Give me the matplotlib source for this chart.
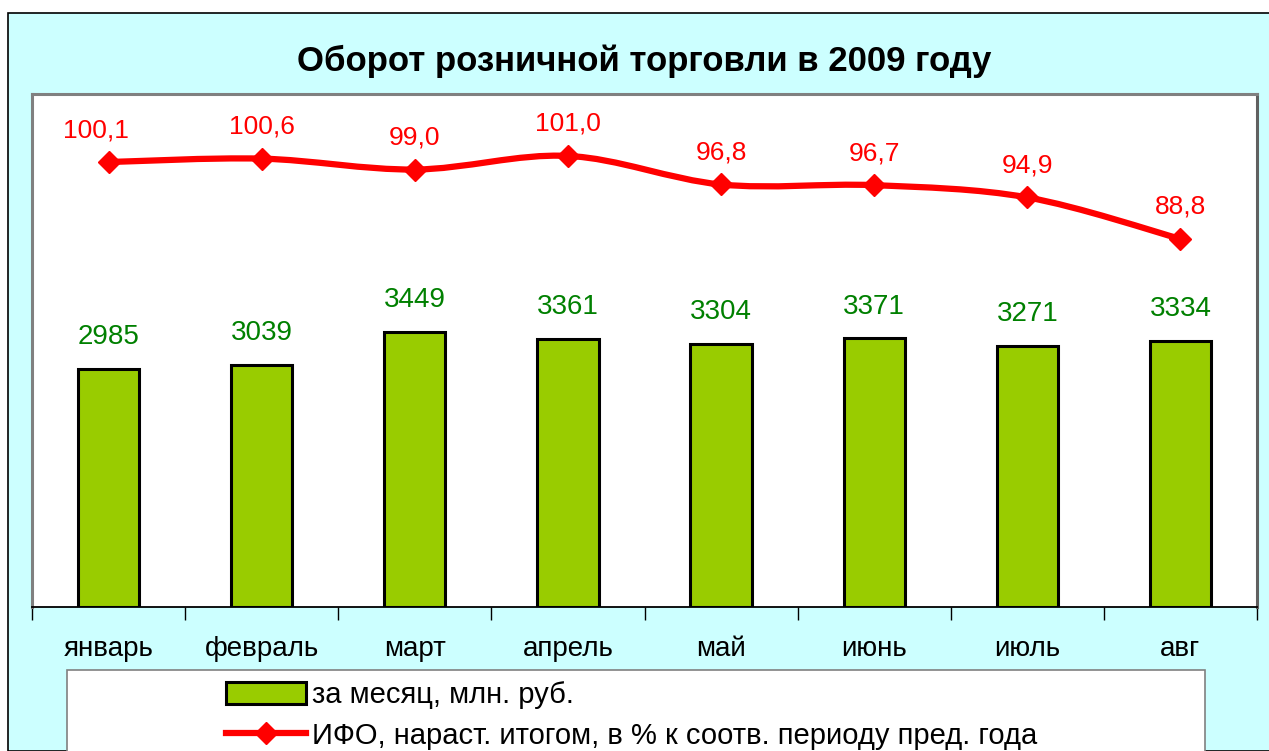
import matplotlib
matplotlib.use("Agg")
import matplotlib.pyplot as plt
from matplotlib.patches import Rectangle, PathPatch, Patch
from matplotlib.path import Path
from matplotlib.lines import Line2D
import numpy as np

plt.rcParams['font.family'] = ['Liberation Sans', 'DejaVu Sans']

months = ["январь", "февраль", "март", "апрель", "май", "июнь", "июль", "авг"]
turnover = [2985, 3039, 3449, 3361, 3304, 3371, 3271, 3334]
ifo = [100.1, 100.6, 99.0, 101.0, 96.8, 96.7, 94.9, 88.8]
ifo_labels = ["100,1", "100,6", "99,0", "101,0", "96,8", "96,7", "94,9", "88,8"]
title = "Оборот розничной торговли в 2009 году"
legend_labels = ["за месяц, млн. руб.", "ИФО, нараст. итогом, в % к соотв. периоду пред. года"]

W, H = 1269, 751
fig = plt.figure(figsize=(W / 100, H / 100), dpi=100)
fig.patch.set_facecolor("white")

# cyan chart area
fig.patches.append(Rectangle((8 / W, 0), 1.2, (H - 13) / H, transform=fig.transFigure,
                             facecolor="#CCFFFF", edgecolor="black", linewidth=1.2, zorder=-10))

fig.text(644 / W, 1 - 61 / H, title, ha="center", va="center", fontsize=25, fontweight="bold")

ax = fig.add_axes([32 / W, 1 - 607 / H, (1257 - 32) / W, (607 - 94) / H])
ax.set_facecolor("white")
x = np.arange(len(months))
bars = ax.bar(x, turnover, width=0.4, color="#99CC00", edgecolor="black", linewidth=2.2, zorder=3)
ax.set_xlim(-0.5, len(months) - 0.5)
ax.set_ylim(0, 6440)
ax.set_yticks([])
for xi, v in zip(x, turnover):
    ax.annotate(str(v), (xi, v), xytext=(0, 23), textcoords="offset points",
                ha="center", va="center", color="#008000", fontsize=20)

ax.set_xticks(x)
ax.set_xticklabels(months, fontsize=20)
ax.tick_params(axis="x", which="major", length=0, pad=21)
ax.set_xticks(np.arange(-0.5, len(months)), minor=True)
ax.tick_params(axis="x", which="minor", length=9, width=1, direction="out", color="black")
for s in ["top", "left", "right"]:
    ax.spines[s].set_color("#808080")
    ax.spines[s].set_linewidth(2.2)
ax.spines["right"].set_color("#606060")
ax.spines["bottom"].set_color("black")
ax.spines["bottom"].set_linewidth(1.3)

ax2 = ax.twinx()
ax2.set_ylim(34.7, 110.1)
ax2.set_yticks([])
for s in ax2.spines.values():
    s.set_visible(False)

# smoothed line (Catmull-Rom / Bezier)
pts = np.column_stack([x, ifo]).astype(float)
n = len(pts)
verts = [tuple(pts[0])]
codes = [Path.MOVETO]
for i in range(n - 1):
    p0 = pts[max(i - 1, 0)]
    p1 = pts[i]
    p2 = pts[i + 1]
    p3 = pts[min(i + 2, n - 1)]
    c1 = p1 + (p2 - p0) / 6
    c2 = p2 - (p3 - p1) / 6
    verts += [tuple(c1), tuple(c2), tuple(p2)]
    codes += [Path.CURVE4] * 3
ax2.add_patch(PathPatch(Path(verts, codes), facecolor="none", edgecolor="#FF0000",
                        linewidth=4.5, capstyle="round", joinstyle="round", zorder=4))
ax2.plot(x, ifo, linestyle="none", marker="D", markersize=11, color="#FF0000", zorder=5)
label_dx = [-9, 0, 0, 0, 0, 0, 0, 0]
for xi, v, lab, dx in zip(x, ifo, ifo_labels, label_dx):
    ax2.annotate(lab, (xi, v), xytext=(dx, 23), textcoords="offset points",
                 ha="center", va="center", color="#FF0000", fontsize=19)

# legend box
fig.patches.append(Rectangle((67 / W, -0.1), (1205 - 67) / W, (751 - 670) / H + 0.1,
                             transform=fig.transFigure, facecolor="white",
                             edgecolor="#808080", linewidth=1.2, zorder=1))
handles = [Patch(facecolor="#99CC00", edgecolor="black", linewidth=2.2),
           Line2D([], [], color="#FF0000", linewidth=4.5, marker="D", markersize=11)]
leg = fig.legend(handles, legend_labels, loc="upper left",
                 bbox_to_anchor=(220 / W, 1 - 675 / H), frameon=False, fontsize=21,
                 handlelength=2.75, handleheight=0.8, handletextpad=0.2, labelspacing=0.45,
                 borderpad=0.2, borderaxespad=0)
leg.set_zorder(2)

fig.savefig("out.png", dpi=100, facecolor=fig.get_facecolor())
